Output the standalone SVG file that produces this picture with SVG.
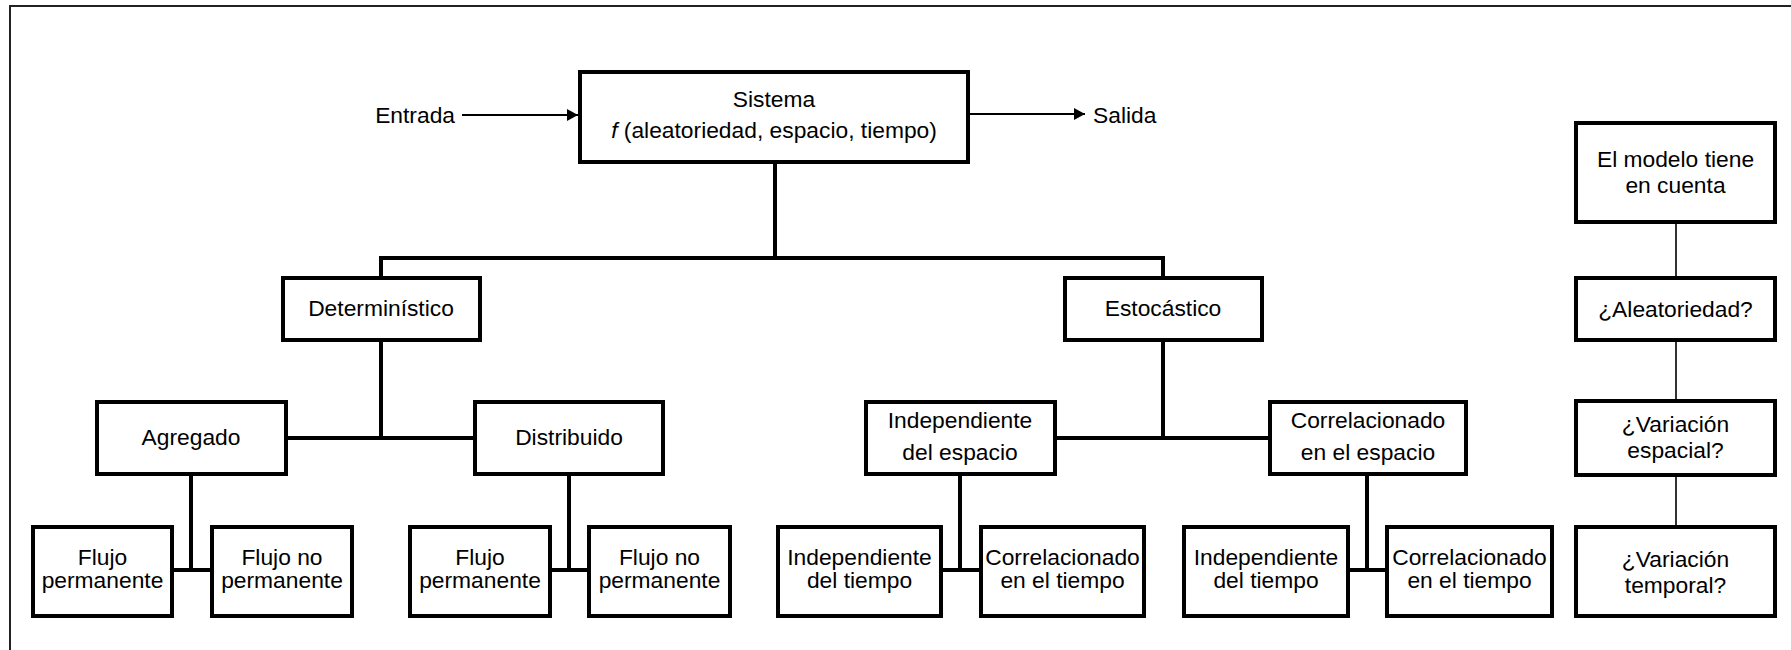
<svg xmlns="http://www.w3.org/2000/svg" width="1791" height="650" viewBox="0 0 1791 650">
<defs>
<style>
.box{fill:#fff;stroke:#000;stroke-width:4}
.ln{fill:none;stroke:#000;stroke-width:4}
.thin{fill:none;stroke:#000;stroke-width:1.6}
.arr{fill:none;stroke:#000;stroke-width:2}
text{font-family:"Liberation Sans",Arial,sans-serif;font-size:22.8px;fill:#000;text-anchor:middle}
</style>
<marker id="ah" markerWidth="12" markerHeight="12" refX="11" refY="6" orient="auto" markerUnits="userSpaceOnUse">
<path d="M0,0 L11,6 L0,12 Z" fill="#000"/>
</marker>
</defs>
<rect width="1791" height="650" fill="#fff"/>
<path d="M10,650 V6 H1791" fill="none" stroke="#222" stroke-width="2"/>

<g id="connectors">
<path class="arr" d="M462,115 H578" marker-end="url(#ah)"/>
<path class="arr" d="M968,114 H1085" marker-end="url(#ah)"/>
<path class="ln" d="M775,162 V258 M381,278 V258 H1163 V278"/>
<path class="ln" d="M381,340 V438 M286,438 H475"/>
<path class="ln" d="M1163,340 V438 M1055,438 H1270"/>
<path class="ln" d="M191,474 V570 M172,570 H212"/>
<path class="ln" d="M569,474 V570 M550,570 H589"/>
<path class="ln" d="M960,474 V570 M941,570 H981"/>
<path class="ln" d="M1367,474 V570 M1348,570 H1387"/>
<path class="thin" d="M1676,222 V278 M1676,340 V401 M1676,475 V527"/>
</g>

<g id="entrada"><text x="455" y="123" style="text-anchor:end">Entrada</text></g>
<g id="salida"><text x="1093" y="123" style="text-anchor:start">Salida</text></g>

<g id="sistema">
<rect class="box" x="580" y="72" width="388" height="90"/>
<text x="774" y="107">Sistema</text>
<text x="774" y="138"><tspan font-style="italic">f</tspan> (aleatoriedad, espacio, tiempo)</text>
</g>

<g id="deterministico">
<rect class="box" x="283" y="278" width="197" height="62"/>
<text x="381" y="316">Determinístico</text>
</g>
<g id="estocastico">
<rect class="box" x="1065" y="278" width="197" height="62"/>
<text x="1163" y="316">Estocástico</text>
</g>

<g id="agregado">
<rect class="box" x="97" y="402" width="189" height="72"/>
<text x="191" y="445">Agregado</text>
</g>
<g id="distribuido">
<rect class="box" x="475" y="402" width="188" height="72"/>
<text x="569" y="445">Distribuido</text>
</g>
<g id="indep-espacio">
<rect class="box" x="866" y="402" width="189" height="72"/>
<text x="960" y="428">Independiente</text>
<text x="960" y="460">del espacio</text>
</g>
<g id="correl-espacio">
<rect class="box" x="1270" y="402" width="196" height="72"/>
<text x="1368" y="428">Correlacionado</text>
<text x="1368" y="460">en el espacio</text>
</g>

<g id="fp1">
<rect class="box" x="33" y="527" width="139" height="89"/>
<text x="102.5" y="565">Flujo</text>
<text x="102.5" y="588">permanente</text>
</g>
<g id="fnp1">
<rect class="box" x="212" y="527" width="140" height="89"/>
<text x="282" y="565">Flujo no</text>
<text x="282" y="588">permanente</text>
</g>
<g id="fp2">
<rect class="box" x="410" y="527" width="140" height="89"/>
<text x="480" y="565">Flujo</text>
<text x="480" y="588">permanente</text>
</g>
<g id="fnp2">
<rect class="box" x="589" y="527" width="141" height="89"/>
<text x="659.5" y="565">Flujo no</text>
<text x="659.5" y="588">permanente</text>
</g>
<g id="it1">
<rect class="box" x="778" y="527" width="163" height="89"/>
<text x="859.5" y="565">Independiente</text>
<text x="859.5" y="588">del tiempo</text>
</g>
<g id="ct1">
<rect class="box" x="981" y="527" width="163" height="89"/>
<text x="1062.5" y="565">Correlacionado</text>
<text x="1062.5" y="588">en el tiempo</text>
</g>
<g id="it2">
<rect class="box" x="1184" y="527" width="164" height="89"/>
<text x="1266" y="565">Independiente</text>
<text x="1266" y="588">del tiempo</text>
</g>
<g id="ct2">
<rect class="box" x="1387" y="527" width="165" height="89"/>
<text x="1469.5" y="565">Correlacionado</text>
<text x="1469.5" y="588">en el tiempo</text>
</g>

<g id="modelo">
<rect class="box" x="1576" y="123" width="199" height="99"/>
<text x="1675.5" y="167">El modelo tiene</text>
<text x="1675.5" y="193">en cuenta</text>
</g>
<g id="aleatoriedad">
<rect class="box" x="1576" y="278" width="199" height="62"/>
<text x="1675.5" y="317">¿Aleatoriedad?</text>
</g>
<g id="var-espacial">
<rect class="box" x="1576" y="401" width="199" height="74"/>
<text x="1675.5" y="432">¿Variación</text>
<text x="1675.5" y="458">espacial?</text>
</g>
<g id="var-temporal">
<rect class="box" x="1576" y="527" width="199" height="89"/>
<text x="1675.5" y="567">¿Variación</text>
<text x="1675.5" y="593">temporal?</text>
</g>
</svg>
